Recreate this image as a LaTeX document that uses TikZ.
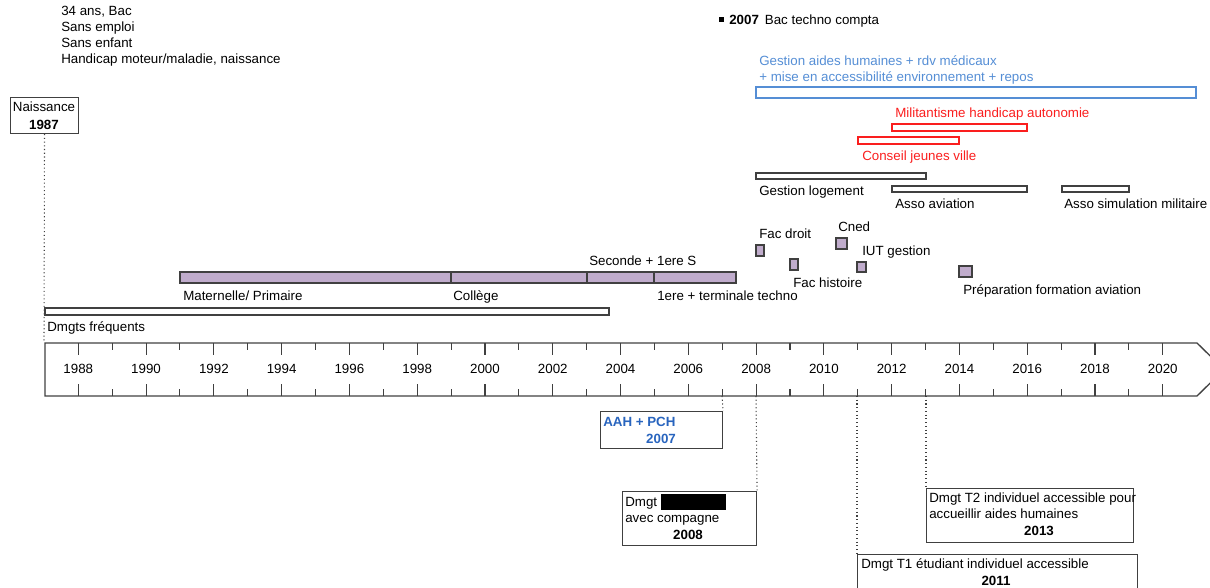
\documentclass[tikz,border=0pt]{standalone}
\usepackage{fontspec}
\setmainfont{Liberation Sans}
\definecolor{lineg}{RGB}{64,64,64}
\definecolor{lilas}{RGB}{192,172,204}
\definecolor{bleuclair}{RGB}{85,142,213}
\definecolor{bleu}{RGB}{40,100,190}
\definecolor{rouge}{RGB}{250,30,30}
\begin{document}
\begin{tikzpicture}[x=0.75pt,y=-0.75pt,font=\fontsize{10}{12}\selectfont,
	lbl/.style={inner sep=0pt,anchor=base west},
	yr/.style={inner sep=0pt,anchor=base,font=\fontsize{10}{12}\selectfont\bfseries},
	bar/.style={draw=lineg,line width=0.9pt},
	evt/.style={draw=lineg,line width=0.8pt,anchor=north west,inner sep=0pt},
	link/.style={draw=lineg,dotted,line width=0.8pt}]
	\useasboundingbox (0,0) rectangle (1210,588);
	\clip (0,0) rectangle (1210,588);
	
	% profil
	\node[inner sep=0pt,anchor=north west,align=left] (profil) at (61,5.5){34 ans, Bac\\Sans emploi\\Sans enfant\\Handicap moteur/maladie, naissance};
	\node[fill=black,inner sep=0pt,minimum size=3.75pt] (puce) at (721.5,19.5){};
	\node[lbl] (bac) at (729,24.5){\textbf{2007}\hspace{4.5pt}Bac techno compta};
	
	% axe
	\draw[lineg,line width=1pt] (45,343) -- (1197,343) -- (1224,369.5) -- (1197,396) -- (45,396) -- cycle;
	\foreach \yr in {1988,...,2020}{
		\pgfmathsetmacro\xx{44.4+33.89*(\yr-1987)}
		\pgfmathsetmacro\tl{mod(\yr,2)==0 ? 12 : 7}
		\draw[lineg,line width=0.8pt] (\xx,343)--(\xx,343+\tl);
		\draw[lineg,line width=0.8pt] (\xx,396)--(\xx,396-\tl);
	}
	\foreach \yr in {1988,1990,...,2020}{
		\pgfmathsetmacro\xx{44.4+33.89*(\yr-1987)}
		\node[inner sep=0pt,anchor=base] (an\yr) at (\xx,373.5){\yr};
	}
	
	% naissance
	\node[evt,minimum width=51pt,minimum height=27pt] (nais) at (10,97){};
	\node[inner sep=0pt,anchor=base] (naistxt) at (44,111.5){Naissance};
	\node[yr] (naisyr) at (44,129.5){1987};
	\draw[link] (nais.south) -- (44,343);
	
	% scolarite
	\draw[bar,fill=lilas] (180,272) rectangle (736,283);
	\foreach \x in {451, 587, 654}{
		\draw[lineg,line width=0.9pt] (\x,272)--(\x,283);
	}
	\node[lbl] (mat) at (183,300.5){Maternelle/ Primaire};
	\node[lbl] (col) at (453,300.5){Collège};
	\node[lbl] (sec) at (589,265.5){Seconde + 1ere S};
	\node[lbl] (term) at (657,300.5){1ere + terminale techno};
	
	\draw[bar] (45,308) rectangle (609,315);
	\node[lbl] (dmgts) at (47,331.5){Dmgts fréquents};
	
	% etudes
	\draw[bar,fill=lilas] (756,245) rectangle (764,256);
	\node[lbl] (droit) at (759,238.5){Fac droit};
	\draw[bar,fill=lilas] (790,259) rectangle (798,270);
	\node[lbl] (hist) at (793,287.5){Fac histoire};
	\draw[bar,fill=lilas] (836,238) rectangle (847,249);
	\node[lbl] (cned) at (838,231.5){Cned};
	\draw[bar,fill=lilas] (857,262) rectangle (866,272);
	\node[lbl] (iut) at (862,255.5){IUT gestion};
	\draw[bar,fill=lilas] (959,266) rectangle (972,277);
	\node[lbl] (prepa) at (963,294.5){Préparation formation aviation};
	
	% activites
	\draw[bar] (756,173) rectangle (926,179);
	\node[lbl] (logt) at (759,195.5){Gestion logement};
	\draw[bar] (892,186) rectangle (1027,192);
	\node[lbl] (aviat) at (895,208.5){Asso aviation};
	\draw[bar] (1062,186) rectangle (1129,192);
	\node[lbl] (simu) at (1064,208.5){Asso simulation militaire};
	
	\draw[bar,draw=rouge] (892,124) rectangle (1027,131);
	\node[lbl,text=rouge] (milit) at (895,117.5){Militantisme handicap autonomie};
	\draw[bar,draw=rouge] (858,137) rectangle (959,144);
	\node[lbl,text=rouge] (conseil) at (862,160.5){Conseil jeunes ville};
	
	\draw[bar,draw=bleuclair] (756,87) rectangle (1196,98);
	\node[inner sep=0pt,anchor=north west,align=left,text=bleuclair] (aides) at (759,55.8){Gestion aides humaines + rdv médicaux\\+ mise en accessibilité environnement + repos};
	
	% evenements
	\node[evt,minimum width=91.5pt,minimum height=27.75pt] (aah) at (600,411){};
	\node[lbl,text=bleu,font=\fontsize{10}{12}\selectfont\bfseries] (aahtxt) at (603,426.5){AAH + PCH};
	\node[yr,text=bleu] (aahyr) at (661,443.5){2007};
	\coordinate (t2007) at (722,396);
	\draw[link] (t2007) -- (aah.north east);
	
	\node[evt,minimum width=100.5pt,minimum height=40.5pt] (dm08) at (622,491){};
	\node[lbl] (dm08a) at (625,506.5){Dmgt};
	\fill[black] (661,494) rectangle (726,510);
	\node[lbl] (dm08b) at (625,522.5){avec compagne};
	\node[yr] (dm08yr) at (688,539.5){2008};
	\coordinate (t2008) at (756,396);
	\draw[link] (t2008) -- (dm08.north east);
	
	\node[evt,minimum width=155.25pt,minimum height=40.5pt] (dm13) at (926,488){};
	\node[inner sep=0pt,anchor=north west,align=left] (dm13txt) at (929,492.8){Dmgt T2 individuel accessible pour\\accueillir aides humaines};
	\node[yr] (dm13yr) at (1039,535.5){2013};
	\coordinate (t2013) at (926,396);
	\draw[link] (t2013) -- (dm13.north west);
	
	\node[evt,minimum width=210pt,minimum height=45pt] (dm11) at (857,554){};
	\node[lbl] (dm11txt) at (861,568.5){Dmgt T1 étudiant individuel accessible};
	\node[yr] (dm11yr) at (996,585.5){2011};
	\coordinate (t2011) at (857,396);
	\draw[link] (t2011) -- (dm11.north west);
\end{tikzpicture}
\end{document}
